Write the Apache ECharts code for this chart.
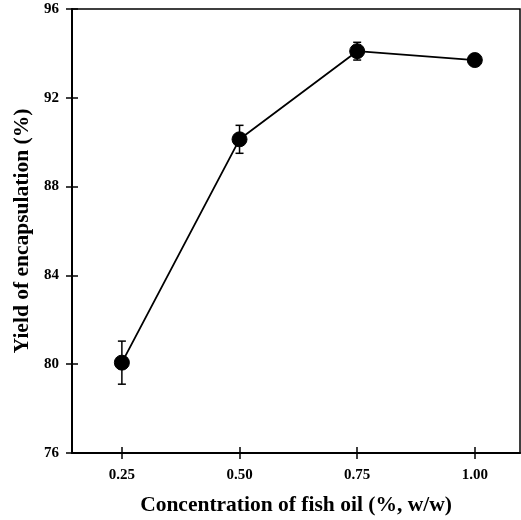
<!DOCTYPE html>
<html><head><meta charset="utf-8">
<script src="https://cdn.jsdelivr.net/npm/echarts@6/dist/echarts.min.js"></script>
<style>html,body{margin:0;padding:0;background:#fff}#c{width:521px;height:520px}</style>
</head><body><div id="c"></div>
<script>
const concentrations = [0.25, 0.50, 0.75, 1.00];
const yieldMeans = [80.07, 90.13, 94.1, 93.7];
const yieldErrors = [0.97, 0.63, 0.4, 0.0];
const xTickValues = [0.25, 0.50, 0.75, 1.00];
const yTickValues = [76, 80, 84, 88, 92, 96];
const xTitle = 'Concentration of fish oil (%, w/w)';
const yTitle = 'Yield of encapsulation (%)';

const font = 'Liberation Serif';
const chart = echarts.init(document.getElementById('c'), null, {renderer: 'canvas'});
const pts = concentrations.map((x, i) => [x, yieldMeans[i]]);
const errData = concentrations.map((x, i) => [x, yieldMeans[i] - yieldErrors[i], yieldMeans[i] + yieldErrors[i]]);

const baseX = {type: 'value', min: 0.144, max: 1.096, splitLine: {show: false}};
const baseY = {type: 'value', min: 76, max: 96, interval: 4, splitLine: {show: false}};

chart.setOption({
  animation: false,
  grid: {left: 72, right: 1, top: 9, bottom: 67, containLabel: false, outerBoundsMode: 'none',
    show: true, borderColor: '#000', borderWidth: 1.5},
  xAxis: [
    Object.assign({}, baseX, {
      position: 'bottom',
      axisLine: {show: true, lineStyle: {color: '#000', width: 2}},
      axisTick: {show: true, inside: false, length: 6, customValues: xTickValues, lineStyle: {color: '#000', width: 1.5}},
      axisLabel: {show: true, customValues: xTickValues, margin: 15, color: '#000', fontFamily: font, fontWeight: 'bold', fontSize: 15,
        formatter: v => v.toFixed(2)},
      name: xTitle, nameLocation: 'middle', nameGap: 41,
      nameTextStyle: {color: '#000', fontFamily: font, fontWeight: 'bold', fontSize: 21.5}
    }),
    Object.assign({}, baseX, {
      position: 'bottom',
      axisLine: {show: false},
      axisTick: {show: true, inside: true, length: 6, customValues: xTickValues, lineStyle: {color: '#000', width: 1.5}},
      axisLabel: {show: false}
    })
  ],
  yAxis: [
    Object.assign({}, baseY, {
      position: 'left',
      axisLine: {show: true, lineStyle: {color: '#000', width: 2}},
      axisTick: {show: true, inside: false, length: 6, lineStyle: {color: '#000', width: 1.5}},
      axisLabel: {show: true, margin: 13, color: '#000', fontFamily: font, fontWeight: 'bold', fontSize: 15,
        customValues: yTickValues},
      name: yTitle, nameLocation: 'middle', nameGap: 39,
      nameTextStyle: {color: '#000', fontFamily: font, fontWeight: 'bold', fontSize: 21.5}
    }),
    Object.assign({}, baseY, {
      position: 'left',
      axisLine: {show: false},
      axisTick: {show: true, inside: true, length: 6, lineStyle: {color: '#000', width: 1.5}},
      axisLabel: {show: false}
    })
  ],
  series: [
    {
      type: 'custom',
      xAxisIndex: 0, yAxisIndex: 0,
      data: errData,
      z: 3,
      renderItem: function (params, api) {
        const x = api.value(0);
        const lo = api.coord([x, api.value(1)]);
        const hi = api.coord([x, api.value(2)]);
        const cap = 4;
        const style = {stroke: '#000', lineWidth: 1.5, fill: null};
        return {
          type: 'group',
          children: [
            {type: 'line', shape: {x1: hi[0], y1: hi[1], x2: lo[0], y2: lo[1]}, style: style},
            {type: 'line', shape: {x1: hi[0] - cap, y1: hi[1], x2: hi[0] + cap, y2: hi[1]}, style: style},
            {type: 'line', shape: {x1: lo[0] - cap, y1: lo[1], x2: lo[0] + cap, y2: lo[1]}, style: style}
          ]
        };
      }
    },
    {
      type: 'line',
      xAxisIndex: 0, yAxisIndex: 0,
      data: pts,
      symbol: 'circle', symbolSize: 15,
      lineStyle: {color: '#000', width: 1.8},
      itemStyle: {color: '#000', borderColor: '#000'},
      z: 4
    }
  ]
});
</script></body></html>
